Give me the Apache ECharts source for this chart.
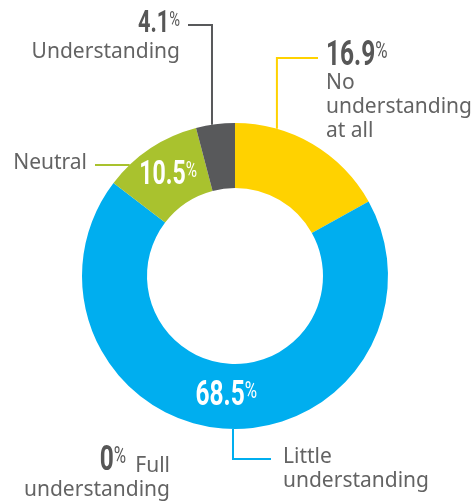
<!DOCTYPE html>
<html>
<head>
<meta charset="utf-8">
<script src="https://cdn.jsdelivr.net/npm/echarts@6/dist/echarts.min.js"></script>
<style>
  html, body { margin: 0; padding: 0; background: #fff; }
  #chart { width: 474px; height: 502px; }
</style>
</head>
<body>
<div id="chart"></div>
<script>
// Survey answers, clockwise from 12 o'clock
const categories = ['No understanding at all', 'Little understanding', 'Full understanding', 'Neutral', 'Understanding'];
const shares = [16.9, 68.5, 0, 10.5, 4.1];
// how each name is broken over lines in its callout
const nameLines = [['No', 'understanding', 'at all'], ['Little', 'understanding'], ['Full', 'understanding'], ['Neutral'], ['Understanding']];

const sliceColors = ['#FFD200', '#00AEEF', '#9A9A9A', '#A9C22E', '#58595B'];
const TEXT_GREY = '#636363';
const NUM_GREY = '#575757';
const NUM_FONT = 'Roboto, "Liberation Sans", sans-serif';
const TXT_FONT = '"Noto Sans", "Open Sans", sans-serif';
const NARROW = 0.7;   // horizontal squeeze for the condensed figures

// ring geometry
const CX = 235, CY = 276, R_IN = 88, R_OUT = 153;
function ringPoint(deg, r) {
  const a = deg * Math.PI / 180;
  const rr = r == null ? R_OUT : r;
  return [CX + rr * Math.sin(a), CY - rr * Math.cos(a)];
}
function leader(deg, elbow, end) {
  const p = ringPoint(deg);
  return elbow === 'h' ? [p, [(p[0] + end[0]) / 2, p[1]], end]
                       : [p, [p[0], end[1]], end];
}

// where each slice's name goes and how its leader runs
const callouts = [
  { x: 326, y: 71,  align: 'left',  line: leader(15.9, 'v', [318, 58]) },
  { x: 283, y: 445, align: 'left',  line: leader(180.75, 'v', [271, 459]) },
  { x: 170, y: 454, align: 'right', line: null },
  { x: 87,  y: 151, align: 'right', line: leader(-43.5, 'h', [95, 165]) },
  { x: 180, y: 40,  align: 'right', line: leader(-8.65, 'v', [188, 25]) }
];
// where each slice's percentage goes ('inside' = centred in the ring)
const valueSpots = [
  { x: 326, y: 56,  align: 'left',  size: 35, color: NUM_GREY },
  { inside: true,   align: 'center', size: 35, color: '#ffffff' },
  { x: 126, y: 461, align: 'right', size: 35, color: NUM_GREY },
  { inside: true,   align: 'center', size: 33, color: '#ffffff' },
  { x: 180, y: 24,  align: 'right', size: 31, color: NUM_GREY }
];

const total = shares.reduce((a, b) => a + b, 0);
const midAngles = [];
shares.reduce((acc, v) => { midAngles.push((acc + v / 2) / total * 360); return acc + v; }, 0);

function txt(s, style) { return '{' + (style || 'txt') + '|' + s + '}'; }

const valueGraphics = shares.map((v, i) => {
  const s = valueSpots[i];
  const pos = s.inside ? ringPoint(midAngles[i], (R_IN + R_OUT) / 2) : [s.x, s.y];
  const pctSize = Math.round(s.size * 0.68);
  return {
    type: 'text',
    x: pos[0],
    y: pos[1],
    scaleX: NARROW,
    z: 100,
    silent: true,
    style: {
      text: txt(String(v), 'big') + txt('%', 'pct'),
      align: s.align, textAlign: s.align,
      verticalAlign: 'middle', textVerticalAlign: 'middle',
      rich: {
        big: { fontFamily: NUM_FONT, fontWeight: 'bold', fontSize: s.size, lineHeight: s.size * 0.9, fill: s.color, color: s.color },
        pct: { fontFamily: NUM_FONT, fontWeight: 'normal', fontSize: pctSize, lineHeight: pctSize * 1.05, verticalAlign: 'top', fill: s.color, color: s.color }
      }
    }
  };
});

const chart = echarts.init(document.getElementById('chart'), null, { renderer: 'canvas' });

chart.setOption({
  backgroundColor: '#ffffff',
  animation: false,
  graphic: valueGraphics,
  series: [
    {
      // the ring itself
      type: 'pie',
      center: [CX, CY],
      radius: [R_IN, R_OUT],
      startAngle: 90,
      clockwise: true,
      avoidLabelOverlap: false,
      silent: true,
      itemStyle: { borderWidth: 0 },
      label: { show: false },
      labelLine: { show: false },
      data: shares.map((v, i) => ({
        name: categories[i],
        value: v,
        itemStyle: { color: sliceColors[i] }
      }))
    },
    {
      // transparent copy carrying the names and leader lines
      type: 'pie',
      center: [CX, CY],
      radius: [R_IN, R_OUT],
      startAngle: 90,
      clockwise: true,
      avoidLabelOverlap: false,
      silent: true,
      itemStyle: { color: 'rgba(0,0,0,0)', borderWidth: 0 },
      label: {
        show: true,
        position: 'outside',
        formatter: p => nameLines[p.dataIndex].map(l => txt(l)).join('\n'),
        rich: {
          txt: { fontFamily: TXT_FONT, fontSize: 21, lineHeight: 24, color: TEXT_GREY }
        }
      },
      labelLine: { show: true, length: 10, length2: 10, lineStyle: { width: 2 } },
      labelLayout: params => {
        const c = callouts[params.dataIndex];
        const out = { x: c.x, y: c.y, align: c.align, verticalAlign: 'top' };
        if (c.line) out.labelLinePoints = c.line;
        return out;
      },
      data: shares.map((v, i) => ({
        name: categories[i],
        value: v,
        labelLine: { show: !!callouts[i].line, lineStyle: { color: sliceColors[i], width: 2 } }
      }))
    }
  ]
});
</script>
</body>
</html>
